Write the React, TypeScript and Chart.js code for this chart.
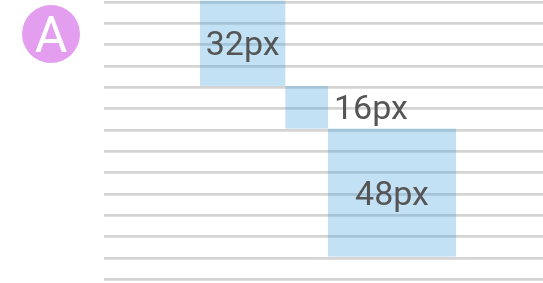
import React, { useEffect, useRef } from "react";
import { Chart, registerables } from "chart.js";

Chart.register(...registerables);

// Baseline grid rows (in px units, 8px grid)
const gridValues = [0, 8, 16, 24, 32, 40, 48, 56, 64, 72, 80, 88, 96, 104];
// Blocks: size (px), start positions (px units)
const blockSizes = [32, 16, 48];
const blockX = [36, 68, 84];
const blockY = [0, 32, 48];
const blockLabels = ["32px", "16px", "48px"];
const labelPlacement = ["center", "right", "center"];
const badgeText = "A";

const GRID_W = 2.8;

const blocksPlugin = {
  id: "blocks",
  afterDraw(chart: any) {
    const { ctx } = chart;
    const xs = chart.scales.x;
    const ys = chart.scales.y;
    ctx.save();
    blockSizes.forEach((s, i) => {
      const x0 = xs.getPixelForValue(blockX[i]);
      const x1 = xs.getPixelForValue(blockX[i] + s);
      const y0 = ys.getPixelForValue(blockY[i]) - GRID_W / 2;
      const y1 = ys.getPixelForValue(blockY[i] + s) - GRID_W / 2;
      ctx.fillStyle = "rgba(73,164,221,0.33)";
      ctx.fillRect(x0, y0, x1 - x0, y1 - y0);
    });
    blockSizes.forEach((s, i) => {
      const x0 = xs.getPixelForValue(blockX[i]);
      const x1 = xs.getPixelForValue(blockX[i] + s);
      const yc = ys.getPixelForValue(blockY[i] + s / 2) - GRID_W / 2;
      ctx.font = "34px Roboto";
      ctx.fillStyle = "#555555";
      ctx.textBaseline = "alphabetic";
      if (labelPlacement[i] === "center") {
        ctx.textAlign = "center";
        ctx.fillText(blockLabels[i], (x0 + x1) / 2, yc + 12);
      } else {
        ctx.textAlign = "left";
        ctx.fillText(blockLabels[i], x1 + 6, yc + 12);
      }
    });
    ctx.restore();
  },
};

export default function App() {
  const ref = useRef<HTMLCanvasElement | null>(null);
  useEffect(() => {
    document.body.style.margin = "0";
    const canvas = ref.current!;
    const chart = new Chart(canvas, {
      type: "scatter",
      data: {
        datasets: [
          {
            data: blockSizes.map((s, i) => ({ x: blockX[i], y: blockY[i] })),
            pointRadius: 0,
            pointHoverRadius: 0,
          },
        ],
      },
      options: {
        animation: false,
        responsive: false,
        events: [],
        layout: { padding: { left: 104, top: 2, right: 0, bottom: 0 } },
        plugins: { legend: { display: false }, tooltip: { enabled: false } },
        scales: {
          x: { type: "linear", display: false, min: 0, max: 164.625 },
          y: {
            type: "linear",
            reverse: true,
            min: 0,
            max: 105.375,
            afterBuildTicks: (scale: any) => {
              scale.ticks = gridValues.map((v) => ({ value: v }));
            },
            ticks: { display: false },
            border: { display: false },
            grid: {
              color: "#d4d4d4",
              lineWidth: GRID_W,
              drawTicks: false,
              tickLength: 0,
            },
          },
        },
      },
      plugins: [blocksPlugin],
    });
    return () => chart.destroy();
  }, []);

  return (
    <div style={{ position: "fixed", left: 0, top: 0, width: 543, height: 283, background: "#fff" }}>
      <canvas ref={ref} width={543} height={283} style={{ position: "absolute", left: 0, top: 0 }} />
      <div
        style={{
          position: "absolute",
          left: 22,
          top: 5,
          width: 58,
          height: 58,
          borderRadius: "50%",
          background: "#e49ef0",
          color: "#ffffff",
          fontFamily: "Roboto",
          fontWeight: 400,
          fontSize: 50,
          lineHeight: "60px",
          textAlign: "center",
        }}
      >
        {badgeText}
      </div>
    </div>
  );
}
